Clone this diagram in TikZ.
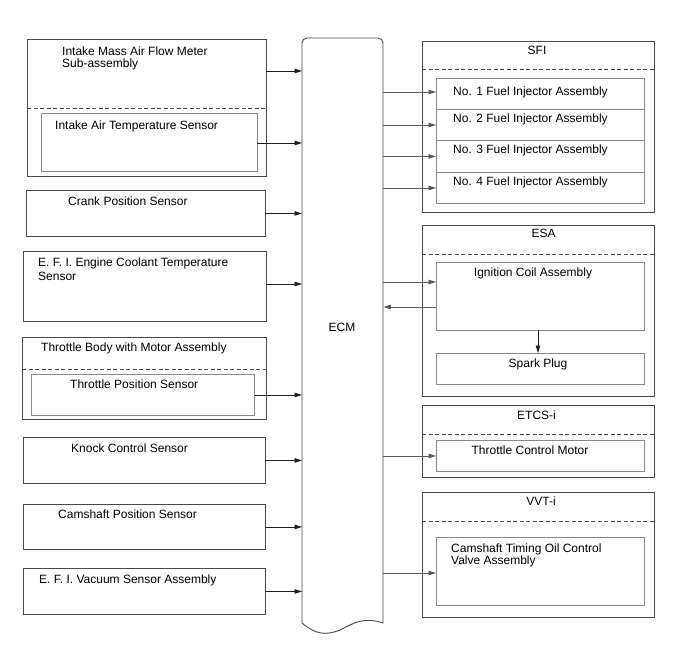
\documentclass[tikz,border=0pt]{standalone}
\usepackage{fontspec}
\setmainfont{Liberation Sans}
\usetikzlibrary{arrows.meta}
\definecolor{obord}{HTML}{4A4A4A}
\definecolor{ibord}{HTML}{8A8A8A}
\definecolor{lline}{HTML}{202020}
\definecolor{rline}{HTML}{5A5A5A}
\begin{document}
\begin{tikzpicture}[x=1pt,y=-1pt,
  font=\fontsize{12}{14}\selectfont,
  obox/.style={draw=obord,line width=0.9pt,anchor=north west,inner sep=0pt},
  ibox/.style={draw=ibord,line width=0.9pt,anchor=north west,inner sep=0pt},
  sep/.style={draw=obord,line width=0.9pt,dash pattern=on 4pt off 2.5pt},
  lbl/.style={anchor=base west,inner sep=0pt},
  ctr/.style={anchor=base,inner sep=0pt},
  twol/.style={anchor=north west,inner sep=0pt,align=left},
  larr/.style={draw=lline,line width=0.8pt,-{Triangle[length=7.5pt,width=4.5pt]}},
  rarr/.style={draw=rline,line width=0.8pt,-{Triangle[length=7.5pt,width=4.5pt]}}]
\useasboundingbox (0,0) rectangle (688,658);
\fill[white] (0,0) rectangle (688,658);

% ---------- ECM ----------
\node[anchor=north west,inner sep=0pt,minimum width=81pt,minimum height=585pt] (ecm) at (302,38) {};
\draw[draw=obord,line width=0.9pt] (302,623) -- (302,43) arc[start angle=180,end angle=270,radius=5]
  -- (378,38) arc[start angle=270,end angle=360,radius=5] -- (383,623)
  .. controls (365,617) and (355,622) .. (340,630)
  .. controls (325,636) and (315,634) .. (302,623);
\node[anchor=center,inner sep=0pt] (ecmtxt) at (342,327) {ECM};

% ---------- Left side ----------
\node[obox,minimum width=239pt,minimum height=137pt] (maf) at (27,39) {};
\draw[sep] (27,108) -- (266,108);
\node[ibox,minimum width=216pt,minimum height=58pt] (iat) at (41,113) {};
\node[twol] (maftxt) at (62,46.5) {Intake Mass Air Flow Meter\\[-1.5pt]Sub-assembly};
\node[lbl] (iattxt) at (55,129.3) {Intake Air Temperature Sensor};

\node[obox,minimum width=239pt,minimum height=46pt] (crank) at (26,190) {};
\node[lbl] (cranktxt) at (68,205.3) {Crank Position Sensor};

\node[obox,minimum width=243pt,minimum height=70pt] (ect) at (23,251) {};
\node[twol] (ecttxt) at (38,257.5) {E. F. I. Engine Coolant Temperature\\Sensor};

\node[obox,minimum width=244pt,minimum height=82pt] (tb) at (22,337) {};
\draw[sep] (22,369) -- (266,369);
\node[ibox,minimum width=223pt,minimum height=41pt] (tps) at (31,374) {};
\node[lbl] (tbtxt) at (41,351.3) {Throttle Body with Motor Assembly};
\node[lbl] (tpstxt) at (70,388.3) {Throttle Position Sensor};

\node[obox,minimum width=242pt,minimum height=46pt] (knock) at (23,437) {};
\node[lbl] (knocktxt) at (71,452.3) {Knock Control Sensor};

\node[obox,minimum width=242pt,minimum height=45pt] (cam) at (23,504) {};
\node[lbl] (camtxt) at (58,518.3) {Camshaft Position Sensor};

\node[obox,minimum width=242pt,minimum height=46pt] (vac) at (23,568) {};
\node[lbl] (vactxt) at (39,583.3) {E. F. I. Vacuum Sensor Assembly};

% left arrows
\coordinate (mafout) at (266,71);
\draw[larr] (mafout) -- (mafout -| ecm.west);
\coordinate (iatout) at (257,143);
\draw[larr] (iatout) -- (iatout -| ecm.west);
\draw[larr] (crank.east) -- (crank.east -| ecm.west);
\coordinate (ectout) at (266,284);
\draw[larr] (ectout) -- (ectout -| ecm.west);
\draw[larr] (tps.east) -- (tps.east -| ecm.west);
\draw[larr] (knock.east) -- (knock.east -| ecm.west);
\draw[larr] (cam.east) -- (cam.east -| ecm.west);
\draw[larr] (vac.east) -- (vac.east -| ecm.west);

% ---------- Right side ----------
% SFI
\node[obox,minimum width=232pt,minimum height=171pt] (sfi) at (422,41) {};
\draw[sep] (422,69) -- (654,69);
\node[ctr] (sfitxt) at (537,55) {SFI};
\node[ibox,minimum width=208pt,minimum height=31pt] (inj1) at (436,78) {};
\node[ibox,minimum width=208pt,minimum height=31pt] (inj2) at (436,109) {};
\node[ibox,minimum width=208pt,minimum height=32pt] (inj3) at (436,140) {};
\node[ibox,minimum width=208pt,minimum height=31pt] (inj4) at (436,172) {};
\node[lbl] (inj1txt) at (453,95.3) {No. 1 Fuel Injector Assembly};
\node[lbl] (inj2txt) at (453,122.3) {No. 2 Fuel Injector Assembly};
\node[lbl] (inj3txt) at (453,153.3) {No. 3 Fuel Injector Assembly};
\node[lbl] (inj4txt) at (453,185.3) {No. 4 Fuel Injector Assembly};

% ESA
\node[obox,minimum width=232pt,minimum height=171pt] (esa) at (422,225) {};
\draw[sep] (422,254) -- (654,254);
\node[ctr] (esatxt) at (543.5,237.3) {ESA};
\node[ibox,minimum width=208pt,minimum height=68pt] (coil) at (436,262) {};
\node[ctr] (coiltxt) at (533,276.3) {Ignition Coil Assembly};
\node[ibox,minimum width=208pt,minimum height=31pt] (spark) at (436,353) {};
\node[ctr] (sparktxt) at (538,367.3) {Spark Plug};

% ETCS-i
\node[obox,minimum width=232pt,minimum height=72pt] (etcs) at (422,405) {};
\draw[sep] (422,434) -- (654,434);
\node[ctr] (etcstxt) at (536.5,419.3) {ETCS-i};
\node[ibox,minimum width=208pt,minimum height=31pt] (tcm) at (436,440) {};
\node[ctr] (tcmtxt) at (530,454.3) {Throttle Control Motor};

% VVT-i
\node[obox,minimum width=232pt,minimum height=125pt] (vvt) at (422,492) {};
\draw[sep] (422,521) -- (654,521);
\node[ctr] (vvttxt) at (541,505.3) {VVT-i};
\node[ibox,minimum width=208pt,minimum height=68pt] (ocv) at (436,537) {};
\node[twol] (ocvtxt) at (451,543.5) {Camshaft Timing Oil Control\\[-1.5pt]Valve Assembly};

% right arrows
\coordinate (a1) at (383,92);
\draw[rarr] (a1) -- (a1 -| inj1.west);
\coordinate (a2) at (383,125);
\draw[rarr] (a2) -- (a2 -| inj2.west);
\draw[rarr] (inj3.west -| ecm.east) -- (inj3.west);
\draw[rarr] (inj4.west -| ecm.east) -- (inj4.west);
\coordinate (a5) at (383,282);
\draw[rarr] (a5) -- (a5 -| coil.west);
\coordinate (a6) at (436,307);
\draw[rarr] (a6) -- (a6 -| ecm.east);
\coordinate (cs) at (538,330);
\draw[larr] (cs) -- (cs |- spark.north);
\draw[rarr] (tcm.west -| ecm.east) -- (tcm.west);
\coordinate (a8) at (383,573);
\draw[rarr] (a8) -- (a8 -| ocv.west);
\end{tikzpicture}
\end{document}
